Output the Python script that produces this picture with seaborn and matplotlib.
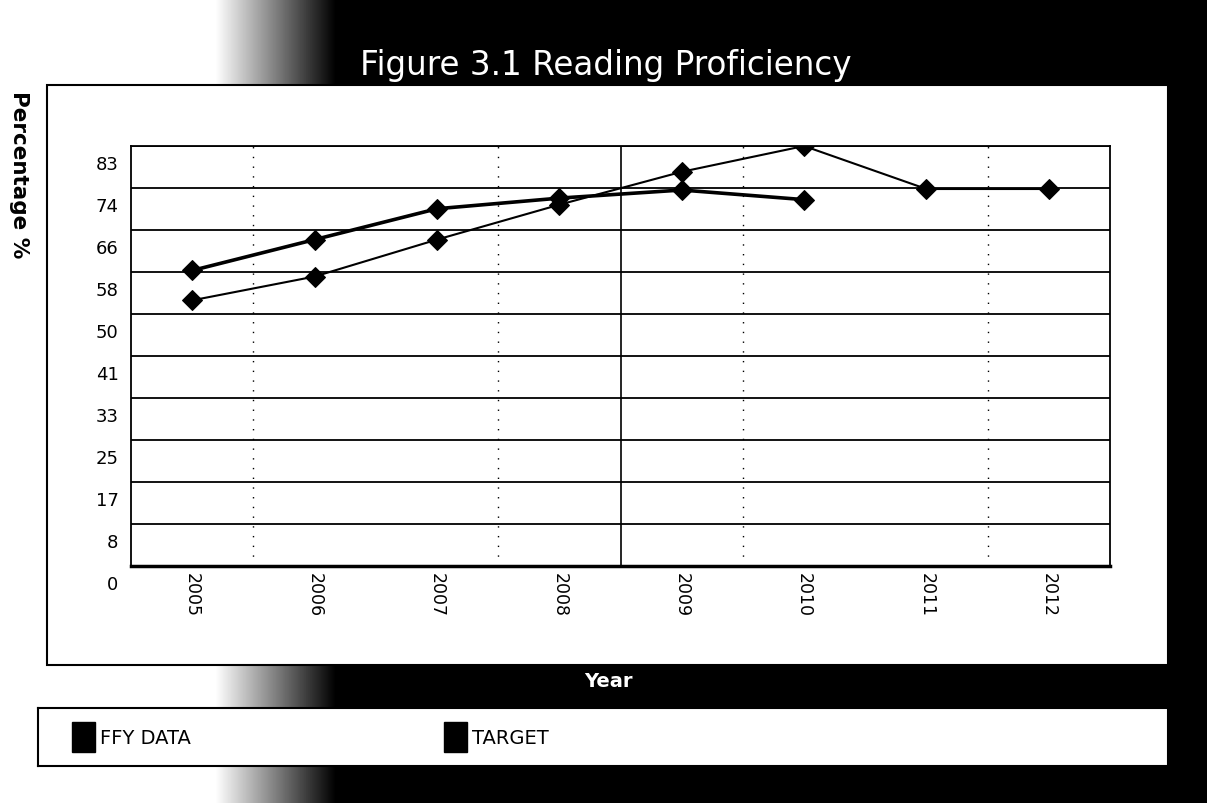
import numpy as np
import pandas as pd
import matplotlib
matplotlib.use("Agg")
import matplotlib.pyplot as plt
import matplotlib.transforms as mtransforms
from matplotlib.patches import Rectangle, Patch
import seaborn as sns

# values
years = ["2005", "2006", "2007", "2008", "2009", "2010", "2011", "2012"]
ffy_data = [58.4, 64.5, 70.6, 72.7, 74.3, 72.4]
target = [52.5, 57.2, 64.5, 71.4, 77.9, 83.0, 74.5, 74.5]
y_ticks = [0, 8.3, 16.6, 24.9, 33.2, 41.5, 49.8, 58.1, 66.4, 74.7, 83.0]
y_tick_labels = ["0", "8", "17", "25", "33", "41", "50", "58", "66", "74", "83"]

W, H = 1207, 804

df = pd.DataFrame({
    "pos": np.arange(len(years)),
    "Year": years,
    "TARGET": target,
    "FFY DATA": ffy_data + [np.nan] * (len(years) - len(ffy_data)),
})

sns.set_style("white")
plt.rcParams["font.family"] = ["DejaVu Sans"]
plt.rcParams["text.color"] = "black"


def box(x0, y0, x1, y1):
    # pixel box (top-left origin) -> figure fraction [l, b, w, h]
    return [x0 / W, 1 - y1 / H, (x1 - x0) / W, (y1 - y0) / H]


fig = plt.figure(figsize=(W / 100, H / 100), dpi=100, facecolor="black")

# background: white on the left fading into black
bg = fig.add_axes([0, 0, 1, 1], zorder=-10)
cols = np.clip((335 - np.arange(W)) / 120.0, 0, 1)
bg.imshow(np.tile(cols, (H, 1)), cmap="gray", vmin=0, vmax=1, aspect="auto",
          extent=[0, W, H, 0], interpolation="bilinear")
bg.set_axis_off()

# white chart panel
fig.patches.append(Rectangle((47 / W, 1 - 666 / H), (1168 - 47) / W, (666 - 86) / H,
                             transform=fig.transFigure, facecolor="white",
                             edgecolor="black", lw=1.5, zorder=-5))

ax = fig.add_axes(box(131, 147, 1110, 567))
ax.set_facecolor("white")

sns.lineplot(data=df, x="pos", y="TARGET", ax=ax, color="black", lw=1.5,
             marker="D", markersize=10, markeredgecolor="black", zorder=4)
sns.lineplot(data=df, x="pos", y="FFY DATA", ax=ax, color="black", lw=2.6,
             marker="D", markersize=10, markeredgecolor="black", zorder=5)

ax.set_xlim(-0.5, len(years) - 0.5)
ax.set_ylim(0, 83)
ax.set_yticks(y_ticks)
ax.set_yticklabels(y_tick_labels, fontsize=13, color="black")
ax.set_xticks(df["pos"])
ax.set_xticklabels(years, rotation=270, fontsize=12.5, va="top", ha="center",
                   color="black")
ax.set_xticks(np.arange(len(years) + 1) - 0.5, minor=True)
ax.tick_params(axis="x", which="major", length=0, pad=4)
ax.tick_params(axis="x", which="minor", length=5, width=3, direction="inout",
               color="black")
ax.tick_params(axis="y", length=0, pad=9)
ax.set_xlabel("")
ax.set_ylabel("")

# y labels sit a little below their grid lines in the reference
shift = mtransforms.ScaledTranslation(0, -0.16, fig.dpi_scale_trans)
for lbl in ax.get_yticklabels():
    lbl.set_transform(lbl.get_transform() + shift)

for yv in y_ticks[1:]:
    ax.axhline(yv, color="black", lw=1.3, zorder=1)
for xv in [0.5, 2.5, 4.5, 6.5]:
    ax.axvline(xv, color="black", lw=1, ls=(0, (1, 6)), zorder=1)
ax.axvline(3.5, color="black", lw=1.2, zorder=1)

for side in ["left", "right", "top"]:
    ax.spines[side].set_color("black")
    ax.spines[side].set_linewidth(1.3)
ax.spines["bottom"].set_color("black")
ax.spines["bottom"].set_linewidth(2.5)

fig.text(606 / W, 1 - 65 / H, "Figure 3.1 Reading Proficiency", color="white",
         fontsize=23.5, ha="center", va="center")
fig.text(19 / W, 1 - 175 / H, "Percentage %", rotation=270, fontsize=15.5,
         fontweight="bold", ha="center", va="center")
fig.text(608 / W, 1 - 682 / H, "Year", color="white", fontsize=14,
         fontweight="bold", ha="center", va="center")

# legend strip
lax = fig.add_axes(box(38, 709, 1168, 767))
lax.set_facecolor("white")
lax.set_xticks([])
lax.set_yticks([])
for s in lax.spines.values():
    s.set_color("black")
    s.set_linewidth(1.5)
handles = [Patch(facecolor="black", edgecolor="black", label="FFY DATA"),
           Patch(facecolor="black", edgecolor="black", label="TARGET")]
lax.legend(handles=handles, loc="center left", ncol=2, frameon=False,
           fontsize=14, handlelength=1.2, handleheight=2.0, handletextpad=0.25,
           borderpad=0, borderaxespad=1.75, columnspacing=13.0)

fig.savefig("out.png", dpi=100, facecolor="black")
